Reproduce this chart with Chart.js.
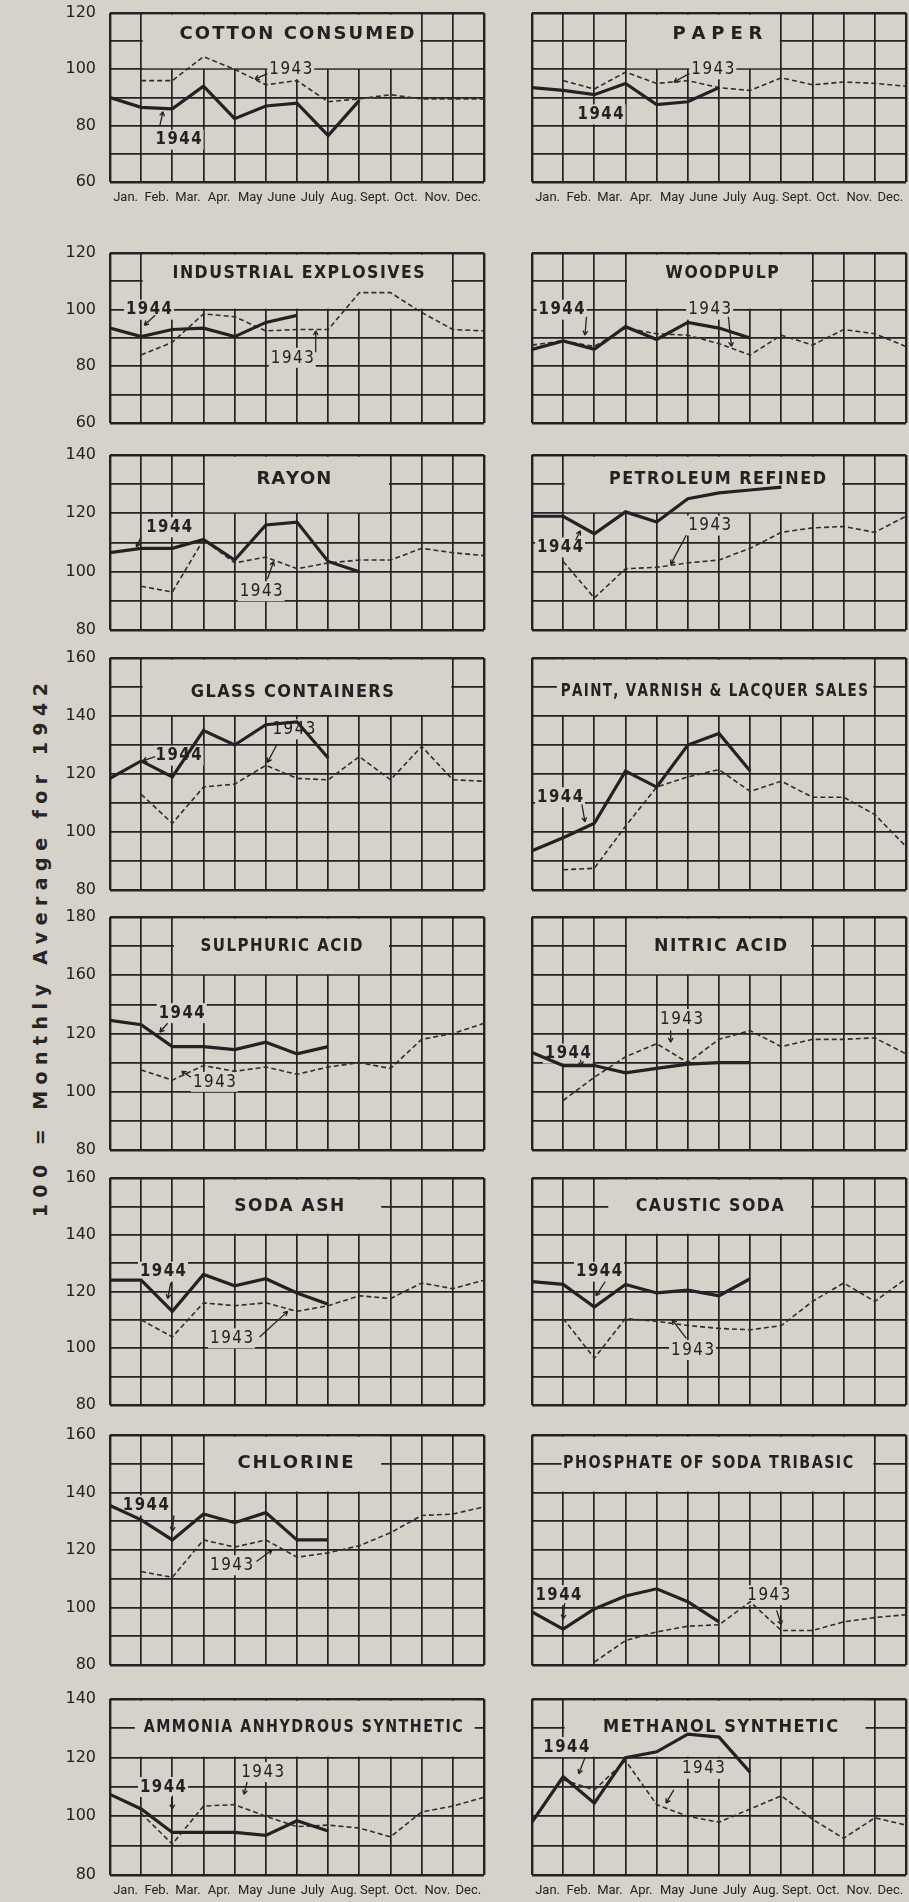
<!DOCTYPE html>
<html>
<head>
<meta charset="utf-8">
<script src="https://cdn.jsdelivr.net/npm/chart.js@4.4.1/dist/chart.umd.min.js"></script>
<style>
  body { margin: 0; background: #d6d2ca; width: 909px; height: 1902px; overflow: hidden; position: relative; }
  canvas { position: absolute; }
  #ylab {
    position: absolute; left: 40px; top: 947px;
    transform: translate(-50%, -50%) rotate(-90deg);
    white-space: nowrap; color: #262626;
    font: bold 19px "DejaVu Sans", sans-serif; letter-spacing: 4px;
  }
</style>
</head>
<body>
<div id="ylab">100 = Monthly Average for 1942</div>
<script>
const months = ["Jan.", "Feb.", "Mar.", "Apr.", "May", "June", "July", "Aug.", "Sept.", "Oct.", "Nov.", "Dec."];

// y tick texts, one per 20 units from the bottom of each panel
const ticks60to120 = ["60", "80", "100", "120"];
const ticks80to140 = ["80", "100", "120", "140"];
const ticks80to160 = ["80", "100", "120", "140", "160"];
const ticksSulphuric = ["80", "100", "120", "160", "180"]; // as printed

// monthly index values, 1944 (solid) and 1943 (dashed)
const cotton44 = [90, 86.5, 86, 94, 82.5, 87, 88, 76.5, 89];
const cotton43 = [null, 96, 96, 104.5, 100, 94.5, 96, 88.5, 89.5, 91, 89.5, 89.5, 89.5];
const paper44 = [93.5, 92.5, 91, 95, 87.5, 88.5, 93.5];
const paper43 = [null, 96, 93, 99, 95, 96, 93.5, 92.5, 97, 94.5, 95.5, 95, 94];
const explosives44 = [93.5, 90.5, 93, 93.5, 90.5, 95.5, 98];
const explosives43 = [null, 84, 88.5, 98.5, 97.5, 92.5, 93, 93, 106, 106, 99, 93, 92.5];
const woodpulp44 = [86, 89, 86, 94, 89.5, 95.5, 93.5, 90];
const woodpulp43 = [87.5, 89, 87, 93.5, 91.5, 91, 88, 84, 91, 87.5, 93, 91.5, 87];
const rayon44 = [106.5, 108, 108, 111, 104, 116, 117, 103.5, 100];
const rayon43 = [null, 95, 93, 111, 103, 105, 101, 103, 104, 104, 108, 106.5, 105.5];
const petroleum44 = [119, 119, 113, 120.5, 117, 125, 127, 128, 129];
const petroleum43 = [null, 103.5, 91, 101, 101.5, 103, 104, 108, 113.5, 115, 115.5, 113.5, 119];
const glass44 = [118.5, 124.5, 119, 135, 130, 137, 138, 125.5];
const glass43 = [null, 113, 103, 115.5, 116.5, 123, 118.5, 118, 126, 118, 129.5, 118, 117.5];
const paint44 = [93.5, 98, 103, 121, 115.5, 130, 134, 121];
const paint43 = [null, 87, 87.5, 102, 115.5, 119, 121.5, 114, 117.5, 112, 112, 106, 95];
const sulphuric44 = [124.5, 123, 115.5, 115.5, 114.5, 117, 113, 115.5];
const sulphuric43 = [null, 107.5, 104, 109, 107, 108.5, 106, 108.5, 110, 108, 118, 120, 123.5];
const nitric44 = [113.5, 109, 109, 106.5, 108, 109.5, 110, 110];
const nitric43 = [null, 97, 105, 112, 116.5, 110, 118, 121, 115.5, 118, 118, 118.5, 113];
const sodaAsh44 = [124, 124, 113, 126, 122, 124.5, 119.5, 115.5];
const sodaAsh43 = [null, 110, 104, 116, 115, 116, 113, 115, 118.5, 117.5, 123, 121, 124];
const caustic44 = [123.5, 122.5, 114.5, 122.5, 119.5, 120.5, 118.5, 124.5];
const caustic43 = [null, 110.5, 96.5, 110.5, 109.5, 108, 107, 106.5, 108, 116.5, 123, 116.5, 124.5];
const chlorine44 = [135.5, 130.5, 123.5, 132.5, 129.5, 133, 123.5, 123.5];
const chlorine43 = [null, 112.5, 110.5, 123.5, 121, 123.5, 117.5, 119, 121.5, 126, 132, 132.5, 135];
const phosphate44 = [98.5, 92.5, 99.5, 104, 106.5, 102, 95];
const phosphate43 = [null, null, 81, 88.5, 91.5, 93.5, 94, 102, 92, 92, 95, 96.5, 97.5];
const ammonia44 = [107.5, 102.5, 94.5, 94.5, 94.5, 93.5, 98.5, 95];
const ammonia43 = [null, 101, 90.5, 103.5, 104, 100, 96.5, 97, 96, 93, 101.5, 103.5, 106.5];
const methanol44 = [98, 113.5, 104.5, 120, 122, 128, 127, 115];
const methanol43 = [null, 112.5, 109, 119, 104, 100, 98, 102.5, 107, 99, 92.5, 99.5, 97];

const BG = "#d6d2ca";
const INK = "#222";
const FACE = '"DejaVu Sans", sans-serif';
const PAD = 12;

// page rows: plot top/bottom in px, value range
const rows = [
  { top: 13, bot: 182, min: 60, max: 120, ticks: ticks60to120, months: true },
  { top: 253, bot: 423, min: 60, max: 120, ticks: ticks60to120 },
  { top: 455, bot: 630, min: 80, max: 140, ticks: ticks80to140 },
  { top: 658, bot: 890, min: 80, max: 160, ticks: ticks80to160 },
  { top: 917, bot: 1150, min: 80, max: 160, ticks: ticksSulphuric },
  { top: 1178, bot: 1405, min: 80, max: 160, ticks: ticks80to160 },
  { top: 1435, bot: 1665, min: 80, max: 160, ticks: ticks80to160 },
  { top: 1699, bot: 1875, min: 80, max: 140, ticks: ticks80to140, months: true },
];

const panels = [
  { row: 0, side: "L", title: "COTTON CONSUMED", tw: 235, tx: 6.0, ty: 112.5, box: [1, 10], s44: cotton44, s43: cotton43,
    labels: [{ t: "1944", x: 2.2, y: 75, a: [1.6, 80, 1.7, 85] }, { t: "1943", x: 5.8, y: 100, a: [5.05, 98.5, 4.65, 96.5] }] },
  { row: 0, side: "R", title: "PAPER", tw: 90, tx: 5.95, ty: 112.5, box: [3, 8], s44: paper44, s43: paper43,
    labels: [{ t: "1944", x: 2.2, y: 84 }, { t: "1943", x: 5.8, y: 100, a: [5.05, 98.5, 4.55, 95.5] }] },
  { row: 1, side: "L", title: "INDUSTRIAL EXPLOSIVES", tw: 252, tx: 6.05, ty: 113, box: [1, 11], s44: explosives44, s43: explosives43,
    labels: [{ t: "1944", x: 1.25, y: 100, a: [1.45, 98, 1.1, 94.5] }, { t: "1943", x: 5.85, y: 83, a: [6.6, 85, 6.6, 92.5] }] },
  { row: 1, side: "R", title: "WOODPULP", tw: 113, tx: 6.1, ty: 113, box: [3, 9], s44: woodpulp44, s43: woodpulp43,
    labels: [{ t: "1944", x: 0.95, y: 100, a: [1.75, 97.5, 1.7, 91] }, { t: "1943", x: 5.7, y: 100, a: [6.3, 97.5, 6.4, 87] }] },
  { row: 2, side: "L", title: "RAYON", tw: 75, tx: 5.9, ty: 131.5, box: [3, 9], s44: rayon44, s43: rayon43,
    labels: [{ t: "1944", x: 1.9, y: 115.2, a: [1.0, 112, 0.85, 108.5] }, { t: "1943", x: 4.85, y: 93.3, a: [5.05, 97.5, 5.25, 103.5] }] },
  { row: 2, side: "R", title: "PETROLEUM REFINED", tw: 217, tx: 5.95, ty: 131.5, box: [1, 10], s44: petroleum44, s43: petroleum43,
    labels: [{ t: "1944", x: 0.9, y: 108.3, a: [1.4, 110.8, 1.55, 114] }, { t: "1943", x: 5.7, y: 115.8, a: [4.95, 112.5, 4.45, 102.5] }] },
  { row: 3, side: "L", title: "GLASS CONTAINERS", tw: 203, tx: 5.85, ty: 148, box: [1, 11], s44: glass44, s43: glass43,
    labels: [{ t: "1944", x: 2.2, y: 126.3, a: [1.45, 126, 1.05, 124.5] }, { t: "1943", x: 5.9, y: 135.4, a: [5.35, 130, 5.05, 124] }] },
  { row: 3, side: "R", title: "PAINT, VARNISH & LACQUER SALES", tw: 307, tx: 5.85, ty: 148.5, box: [0.75, 11], s44: paint44, s43: paint43,
    labels: [{ t: "1944", x: 0.9, y: 112, a: [1.6, 109.5, 1.7, 103.5] }] },
  { row: 4, side: "L", title: "SULPHURIC ACID", tw: 162, tx: 5.5, ty: 150, box: [2, 9], s44: sulphuric44, s43: sulphuric43,
    labels: [{ t: "1944", x: 2.3, y: 127, a: [1.85, 123.5, 1.6, 120.5] }, { t: "1943", x: 3.35, y: 103.4, a: [2.6, 105, 2.3, 107] }] },
  { row: 4, side: "R", title: "NITRIC ACID", tw: 133, tx: 6.05, ty: 150, box: [3, 9], s44: nitric44, s43: nitric43,
    labels: [{ t: "1944", x: 1.15, y: 113.1, a: [1.55, 111, 1.6, 108.8] }, { t: "1943", x: 4.8, y: 125, a: [4.45, 121, 4.45, 117] }] },
  { row: 5, side: "L", title: "SODA ASH", tw: 110, tx: 5.75, ty: 150, box: [3, 8.75], s44: sodaAsh44, s43: sodaAsh43,
    labels: [{ t: "1944", x: 1.7, y: 127, a: [1.95, 123, 1.85, 117.5] }, { t: "1943", x: 3.9, y: 103.5, a: [4.8, 104, 5.7, 113] }] },
  { row: 5, side: "R", title: "CAUSTIC SODA", tw: 148, tx: 5.7, ty: 150, box: [2.4, 9], s44: caustic44, s43: caustic43,
    labels: [{ t: "1944", x: 2.15, y: 127, a: [2.35, 123.5, 2.05, 118.5] }, { t: "1943", x: 5.15, y: 99.4, a: [4.95, 103.5, 4.5, 110] }] },
  { row: 6, side: "L", title: "CHLORINE", tw: 116, tx: 5.95, ty: 150, box: [3, 8.75], s44: chlorine44, s43: chlorine43,
    labels: [{ t: "1944", x: 1.15, y: 135.5, a: [2.05, 132, 2.0, 126.5] }, { t: "1943", x: 3.9, y: 114.7, a: [4.7, 116, 5.2, 120] }] },
  { row: 6, side: "R", title: "PHOSPHATE OF SODA TRIBASIC", tw: 290, tx: 5.65, ty: 150, box: [0.9, 11], s44: phosphate44, s43: phosphate43,
    labels: [{ t: "1944", x: 0.85, y: 104.3, a: [1.05, 101.5, 1.0, 96] }, { t: "1943", x: 7.6, y: 104.3, a: [7.85, 99, 8.0, 94] }] },
  { row: 7, side: "L", title: "AMMONIA ANHYDROUS SYNTHETIC", tw: 319, tx: 6.2, ty: 130.5, box: [0.75, 11.75], s44: ammonia44, s43: ammonia43,
    labels: [{ t: "1944", x: 1.7, y: 110, a: [2.0, 107, 2.0, 102.5] }, { t: "1943", x: 4.9, y: 115.1, a: [4.4, 111.7, 4.3, 107.5] }] },
  { row: 7, side: "R", title: "METHANOL SYNTHETIC", tw: 235, tx: 6.05, ty: 130.5, box: [1, 10.75], s44: methanol44, s43: methanol43,
    labels: [{ t: "1944", x: 1.1, y: 123.6, a: [1.7, 120, 1.5, 114.5] }, { t: "1943", x: 5.5, y: 116.2, a: [4.55, 109, 4.3, 104.5] }] },
];

// text squeezed or spread to a given width, centred on cx
function drawSpaced(ctx, text, cx, cy, target, font) {
  ctx.font = font;
  const chars = [...text];
  const n = chars.length;
  const natural = ctx.measureText(text).width;
  const sx = Math.min(1, Math.max(0.6, (target - (n - 1) * 1.5) / natural));
  const widths = chars.map(c => ctx.measureText(c).width * sx);
  const sum = widths.reduce((a, b) => a + b, 0);
  const gap = n > 1 ? (target - sum) / (n - 1) : 0;
  let x = cx - target / 2;
  ctx.textAlign = "left";
  ctx.textBaseline = "middle";
  chars.forEach((c, i) => {
    ctx.save();
    ctx.translate(x, cy);
    ctx.scale(sx, 1);
    ctx.fillText(c, 0, 0);
    ctx.restore();
    x += widths[i] + gap;
  });
}

function arrow(ctx, x1, y1, x2, y2) {
  ctx.beginPath();
  ctx.moveTo(x1, y1);
  ctx.lineTo(x2, y2);
  const a = Math.atan2(y2 - y1, x2 - x1), h = 5;
  ctx.moveTo(x2, y2);
  ctx.lineTo(x2 - h * Math.cos(a - 0.5), y2 - h * Math.sin(a - 0.5));
  ctx.moveTo(x2, y2);
  ctx.lineTo(x2 - h * Math.cos(a + 0.5), y2 - h * Math.sin(a + 0.5));
  ctx.stroke();
}

// title box, year labels and their arrows
const notesPlugin = {
  id: "notes",
  beforeDatasetsDraw(chart, args, o) {
    const { ctx, chartArea: ca, scales: { x, y } } = chart;
    const px = v => x.getPixelForValue(v);
    const py = v => y.getPixelForValue(v);
    const step = py(y.min) - py(y.min + 10);
    ctx.save();
    ctx.beginPath();
    ctx.rect(ca.left + 1.5, ca.top + 1.5, ca.right - ca.left - 3, ca.bottom - ca.top - 3);
    ctx.clip();
    ctx.fillStyle = BG;
    const b1 = px(o.box[0]) + 1.5, b2 = px(o.box[1]) - 1.5;
    ctx.fillRect(b1, ca.top + 1.5, b2 - b1, 2 * step - 2.5);
    ctx.fillStyle = INK;
    drawSpaced(ctx, o.title, px(o.tx), py(o.ty), o.tw, "bold 18px " + FACE);
    o.labels.forEach(l => {
      const bold = l.t === "1944";
      const w = bold ? 46 : 43;
      ctx.fillStyle = BG;
      ctx.fillRect(px(l.x) - w / 2 - 2, py(l.y) - 10, w + 4, 20);
      ctx.fillStyle = INK;
      drawSpaced(ctx, l.t, px(l.x), py(l.y), w, (bold ? "bold " : "") + "18px " + FACE);
      if (l.a) {
        ctx.strokeStyle = INK;
        ctx.lineWidth = 1.3;
        arrow(ctx, px(l.a[0]), py(l.a[1]), px(l.a[2]), py(l.a[3]));
      }
    });
    ctx.restore();
  },
};

function points(arr) {
  return arr.map((v, i) => ({ x: i, y: v }));
}

function noPad(s) {
  s.paddingTop = 0;
  s.paddingBottom = 0;
  s.paddingLeft = 0;
  s.paddingRight = 0;
}

panels.forEach(p => {
  const r = rows[p.row];
  const left = p.side === "L";
  const cv = document.createElement("canvas");
  const cl = left ? 40 : 526;
  const cw = left ? 450 : 383;
  const ct = r.top - PAD;
  const ch = r.bot - r.top + PAD + (r.months ? 30 : PAD);
  cv.width = cw;
  cv.height = ch;
  cv.style.left = cl + "px";
  cv.style.top = ct + "px";
  cv.style.width = cw + "px";
  cv.style.height = ch + "px";
  document.body.appendChild(cv);

  const edgeWidth = (lo, hi) => c => (c.tick && (c.tick.value === lo || c.tick.value === hi)) ? 2.4 : 1.7;

  const scales = {
    x: {
      type: "linear", min: 0, max: 12, position: "bottom", weight: 0,
      ticks: { display: false, stepSize: 1 },
      grid: { color: INK, lineWidth: edgeWidth(0, 12), drawTicks: false },
      border: { display: false },
      afterFit: s => { s.height = 0; noPad(s); },
    },
    y: {
      type: "linear", min: r.min, max: r.max,
      ticks: {
        display: left, stepSize: 10, padding: 14, color: INK,
        font: { family: FACE, size: 16 },
        callback: v => ((v - r.min) % 20 === 0 ? r.ticks[(v - r.min) / 20] : ""),
      },
      grid: { color: INK, lineWidth: edgeWidth(r.min, r.max), drawTicks: false },
      border: { display: false },
      afterFit: s => { s.width = left ? 70 : 0; noPad(s); },
    },
  };
  if (r.months) {
    scales.m = {
      type: "category", axis: "x", position: "bottom", weight: 1,
      labels: months, offset: true,
      grid: { display: false, drawTicks: false },
      border: { display: false },
      ticks: {
        autoSkip: false, maxRotation: 0, padding: 8, color: INK,
        font: { family: '"Liberation Sans Narrow", Roboto, sans-serif', size: 13 },
      },
      afterFit: s => { s.height = 30; noPad(s); },
    };
  }

  new Chart(cv, {
    type: "line",
    data: {
      datasets: [
        {
          label: "1944", data: points(p.s44), xAxisID: "x", yAxisID: "y",
          borderColor: INK, borderWidth: 3.2, pointRadius: 0, tension: 0, spanGaps: false,
        },
        {
          label: "1943", data: points(p.s43), xAxisID: "x", yAxisID: "y",
          borderColor: "#2e2e2e", borderWidth: 1.6, borderDash: [5, 3], pointRadius: 0, tension: 0, spanGaps: false,
        },
      ],
    },
    options: {
      responsive: false,
      animation: false,
      events: [],
      layout: { padding: { top: PAD, bottom: r.months ? 0 : PAD, left: left ? 0 : 6, right: left ? 6 : 3 } },
      scales: scales,
      plugins: {
        legend: { display: false },
        tooltip: { enabled: false },
        notes: { title: p.title, tw: p.tw, tx: p.tx, ty: p.ty, box: p.box, labels: p.labels },
      },
    },
    plugins: [notesPlugin],
  });
});

// stretch the side caption to its printed length
const ylab = document.getElementById("ylab");
ylab.style.letterSpacing = "0px";
const base = ylab.offsetWidth;
ylab.style.letterSpacing = ((534 - base) / 29).toFixed(2) + "px";
</script>
</body>
</html>
